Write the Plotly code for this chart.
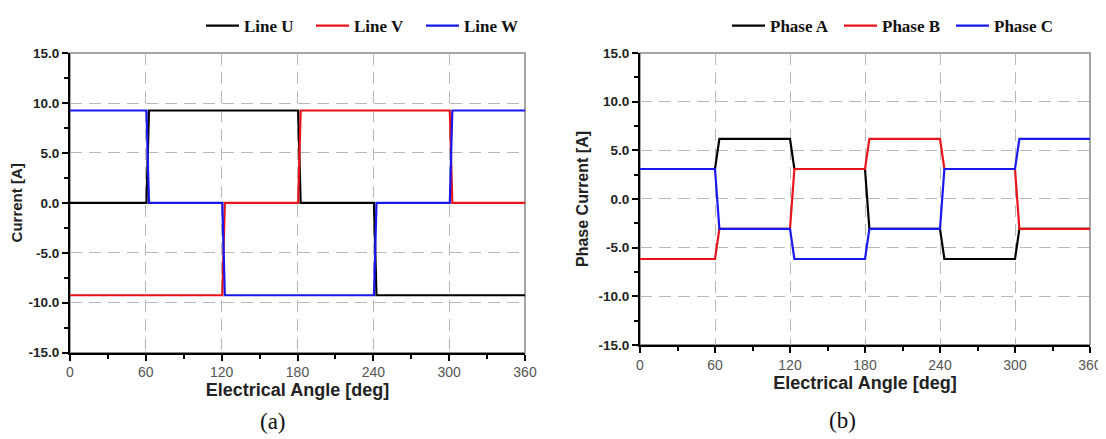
import plotly.graph_objects as go

W, H = 1106, 439
OFF = 8  # the page body offset (px) of the figure in the browser window

# ---------------- data ----------------
# (a) line currents
line_names = ["Line U", "Line V", "Line W"]
angle_u = [0, 60.5, 62.5, 180.5, 182.5, 240.5, 242.5, 360]
line_u = [0, 0, 9.25, 9.25, 0, 0, -9.25, -9.25]
angle_v = [0, 120.5, 122.5, 180.5, 182.5, 300.5, 302.5, 360]
line_v = [-9.25, -9.25, 0, 0, 9.25, 9.25, 0, 0]
angle_w = [0, 60.5, 62.5, 120.5, 122.5, 240.5, 242.5, 300.5, 302.5, 360]
line_w = [9.25, 9.25, 0, 0, -9.25, -9.25, 0, 0, 9.25, 9.25]

# (b) phase currents
phase_names = ["Phase A", "Phase B", "Phase C"]
angle_ph = [0, 60, 63.5, 120, 123.5, 180, 183.5, 240, 243.5, 300, 303.5, 360]
phase_a = [3.08, 3.08, 6.17, 6.17, 3.08, 3.08, -3.08, -3.08, -6.17, -6.17, -3.08, -3.08]
phase_b = [-6.17, -6.17, -3.08, -3.08, 3.08, 3.08, 6.17, 6.17, 3.08, 3.08, -3.08, -3.08]
phase_c = [3.08, 3.08, -3.08, -3.08, -6.17, -6.17, -3.08, -3.08, 3.08, 3.08, 6.17, 6.17]

x_ticks = [0, 60, 120, 180, 240, 300, 360]
x_ticktext = ["0", "60", "120", "180", "240", "300", "360"]
y_ticks = [-15, -10, -5, 0, 5, 10, 15]
y_ticktext = ["-15.0", "-10.0", "-5.0", "0.0", "5.0", "10.0", "15.0"]

colors = ["#000000", "#e8141a", "#1818ee"]

x_title = "Electrical Angle [deg]"
y_title_a = "Current [A]"
y_title_b = "Phase Current [A]"
captions = ["(a)", "(b)"]

# ---------------- figure ----------------
fig = go.Figure()

for name, xs, ys, c in zip(line_names, [angle_u, angle_v, angle_w],
                           [line_u, line_v, line_w], colors):
    fig.add_trace(go.Scatter(x=xs, y=ys, mode="lines", name=name,
                             line=dict(color=c, width=2.2),
                             xaxis="x", yaxis="y", legend="legend"))

for name, ys, c in zip(phase_names, [phase_a, phase_b, phase_c], colors):
    fig.add_trace(go.Scatter(x=angle_ph, y=ys, mode="lines", name=name,
                             line=dict(color=c, width=2.2),
                             xaxis="x2", yaxis="y2", legend="legend2"))

def px_x(s):
    return (s - OFF) / W

def px_y(s):
    return 1 - (s - OFF) / H

GRID_DASH = "12px,7px"

xa_common = dict(
    range=[0, 360], tickvals=x_ticks, ticktext=x_ticktext, automargin=False,
    ticks="outside", ticklen=6, tickwidth=1.5, tickcolor="#000",
    minor=dict(dtick=30, tick0=0, ticks="outside", ticklen=4, tickcolor="#000", showgrid=False),
    showline=True, linecolor="#000", linewidth=2,
    showgrid=True, gridcolor="#b8b8b8", griddash=GRID_DASH, gridwidth=1,
    zeroline=False,
    tickfont=dict(family="Arial, Liberation Sans", size=14, color="#555"),
    title=dict(text=x_title, font=dict(family="Arial, Liberation Sans", size=18,
                                       color="#222", weight="bold"), standoff=4),
)
ya_common = dict(
    range=[-15, 15], tickvals=y_ticks, ticktext=y_ticktext, automargin=False,
    ticks="outside", ticklen=6, tickwidth=1.5, tickcolor="#000",
    minor=dict(dtick=2.5, tick0=0, ticks="outside", ticklen=4, tickcolor="#000", showgrid=False),
    showline=True, linecolor="#000", linewidth=2,
    showgrid=True, gridcolor="#b8b8b8", griddash=GRID_DASH, gridwidth=1,
    zeroline=False,
    tickfont=dict(family="Arial, Liberation Sans", size=13.5, color="#222", weight="bold"),
)

fig.update_layout(
    width=W, height=H, margin=dict(l=0, r=0, t=0, b=0),
    paper_bgcolor="white", plot_bgcolor="white",
    xaxis=dict(**xa_common, domain=[px_x(70), px_x(525)], anchor="y"),
    yaxis=dict(**ya_common, domain=[px_y(350), px_y(42)], anchor="x",
               title=dict(text=y_title_a, standoff=6,
                          font=dict(family="Arial, Liberation Sans", size=15,
                                    color="#222", weight="bold"))),
    xaxis2=dict(**xa_common, domain=[px_x(640), px_x(1090)], anchor="y2"),
    yaxis2=dict(**ya_common, domain=[px_y(342), px_y(42)], anchor="x2",
                title=dict(text=y_title_b, standoff=6,
                           font=dict(family="Arial, Liberation Sans", size=16,
                                     color="#222", weight="bold"))),
    legend=dict(orientation="h", x=px_x(201), y=px_y(14), xanchor="left", yanchor="middle",
                font=dict(family="Liberation Serif", size=17, color="#111", weight="bold"),
                bgcolor="rgba(0,0,0,0)", entrywidth=62, entrywidthmode="pixels",
                itemwidth=33),
    legend2=dict(orientation="h", x=px_x(727), y=px_y(14), xanchor="left", yanchor="middle",
                 font=dict(family="Liberation Serif", size=17, color="#111", weight="bold"),
                 bgcolor="rgba(0,0,0,0)", entrywidth=64, entrywidthmode="pixels",
                 itemwidth=33),
    showlegend=True,
)

# light frame on the top/right sides
for xr, yr in [("x domain", "y domain"), ("x2 domain", "y2 domain")]:
    fig.add_shape(type="rect", xref=xr, yref=yr, x0=0, x1=1, y0=0, y1=1,
                  line=dict(color="#888", width=1.5), layer="below")

for cap, cx, cy in zip(captions, [273, 842], [421, 420]):
    fig.add_annotation(text=cap, x=px_x(cx), y=px_y(cy), xref="paper", yref="paper",
                       xanchor="center", yanchor="middle", showarrow=False,
                       font=dict(family="Liberation Serif", size=23, color="#111"))

fig.write_html("out.html")
